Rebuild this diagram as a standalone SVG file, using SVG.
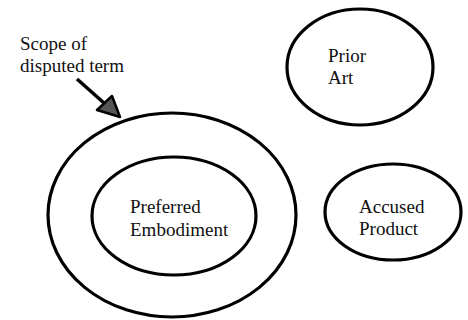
<svg xmlns="http://www.w3.org/2000/svg" width="468" height="320" viewBox="0 0 468 320">
<style>
.o{fill:none;stroke:#000;stroke-width:3.2}
text{font-family:'Liberation Serif','Times New Roman',serif;font-size:19px;fill:#111}
</style>
<rect width="468" height="320" fill="#fff"/>
<g id="scope">
<ellipse class="o" cx="172" cy="215" rx="124" ry="102"/>
</g>
<g id="preferred">
<ellipse class="o" cx="174" cy="216" rx="82" ry="59"/>
<text x="130" y="213">Preferred</text>
<text x="130" y="236">Embodiment</text>
</g>
<g id="prior">
<ellipse class="o" cx="360" cy="67" rx="73" ry="58"/>
<text x="328" y="62">Prior</text>
<text x="328" y="84">Art</text>
</g>
<g id="accused">
<ellipse class="o" cx="393" cy="212" rx="68" ry="48"/>
<text x="359" y="213">Accused</text>
<text x="359" y="235">Product</text>
</g>
<g id="label">
<text x="20" y="50">Scope of</text>
<text x="20" y="72">disputed term</text>
</g>
<g id="connectors">
<line x1="77" y1="79" x2="104" y2="103" stroke="#000" stroke-width="3.5"/>
<polygon points="120,117 97,110 112,96" fill="#555" stroke="#000" stroke-width="2.5" stroke-linejoin="round"/>
</g>
</svg>
